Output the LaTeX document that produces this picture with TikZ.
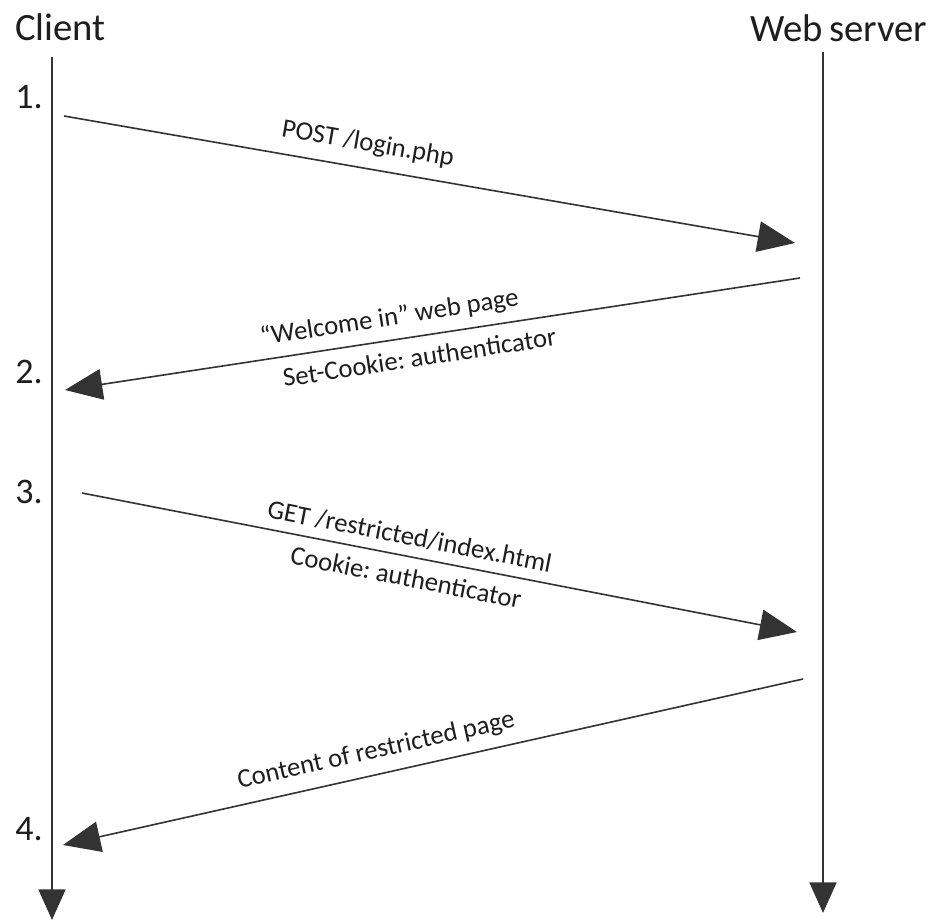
\documentclass[tikz,border=0pt]{standalone}
\usepackage{fontspec}
\setmainfont{Carlito}
\usetikzlibrary{arrows.meta}
\definecolor{ink}{HTML}{1E1E1E}
\definecolor{wire}{HTML}{333333}
\frenchspacing
\begin{document}
\begin{tikzpicture}[x=0.75pt,y=-0.75pt,
  title/.style={font=\fontsize{29}{34}\selectfont, text=ink, inner sep=0pt, anchor=base west},
  num/.style={font=\fontsize{27}{32}\selectfont, text=ink, inner sep=0pt, anchor=base west},
  lbl/.style={font=\fontsize{20}{24}\selectfont\frenchspacing, text=ink, inner sep=0pt, sloped},
  life/.style={draw=wire, line width=2.2pt, -{Triangle[length=23pt,width=20pt]}},
  msg/.style={draw=wire, line width=1.2pt, -{Triangle[length=28pt,width=23pt]}}]
\useasboundingbox[fill=white] (0,0) rectangle (936,922);

\node[title] (client) at (15,40) {Client};
\node[title] (server) at (750,41) {Web\,server};

\coordinate (ctop) at (52,57);
\coordinate (cbot) at (52,920);
\coordinate (stop) at (823,52);
\coordinate (sbot) at (823,913);
\draw[life] (ctop) -- (cbot);
\draw[life] (stop) -- (sbot);

\node[num] (n1) at (15,108) {1.};
\node[num] (n2) at (15,383) {2.};
\node[num] (n3) at (15,503) {3.};
\node[num] (n4) at (15,840) {4.};

\coordinate (a1s) at (64,116);
\coordinate (a1e) at (795,243);
\coordinate (a2s) at (800,278);
\coordinate (a2e) at (65,390);
\coordinate (a3s) at (82,493);
\coordinate (a3e) at (797,632);
\coordinate (a4s) at (803,679);
\coordinate (a4e) at (63,845);

\draw[msg] (a1s) -- node[lbl, above=9pt, pos=0.41] (l1) {POST /login.php} (a1e);
\draw[msg] (a2s) -- node[lbl, above=7pt, pos=0.554] (l2a) {“Welcome in” web page}
                    node[lbl, below=8pt, pos=0.522] (l2b) {Set-Cookie: authenticator} (a2e);
\draw[msg] (a3s) -- node[lbl, above=7pt, pos=0.453] (l3a) {GET /restricted/index.html}
                    node[lbl, below=8pt, pos=0.459] (l3b) {Cookie: authenticator} (a3e);
\draw[msg] (a4s) -- node[lbl, above=8pt, pos=0.57] (l4) {Content of restricted page} (a4e);
\end{tikzpicture}
\end{document}
